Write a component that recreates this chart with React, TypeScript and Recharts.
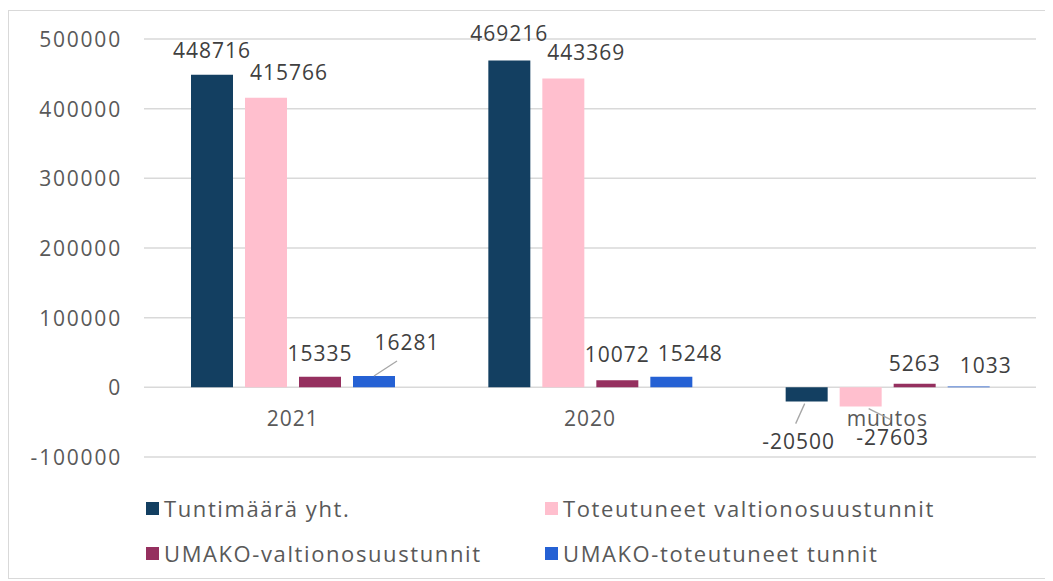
import { BarChart, Bar, XAxis, YAxis, CartesianGrid, LabelList } from 'recharts';

const categories = ['2021', '2020', 'muutos'];
const tuntimaara = [448716, 469216, -20500];
const toteutuneet = [415766, 443369, -27603];
const umakoValtio = [15335, 10072, 5263];
const umakoToteutuneet = [16281, 15248, 1033];
const yTicks = [-100000, 0, 100000, 200000, 300000, 400000, 500000];

const seriesNames = [
  'Tuntimäärä yht.',
  'Toteutuneet valtionosuustunnit',
  'UMAKO-valtionosuustunnit',
  'UMAKO-toteutuneet tunnit',
];
const colors = ['#133F61', '#FFBFCE', '#95305F', '#2561D4'];

const data = categories.map((c, i) => ({
  cat: c,
  s0: tuntimaara[i],
  s1: toteutuneet[i],
  s2: umakoValtio[i],
  s3: umakoToteutuneet[i],
}));

// layout
const W = 1041;
const H = 470;
const M = { top: 28, right: 14, bottom: 0, left: 0 };
const Y_W = 135;
const X_H = 24;
const plotH = H - M.top - M.bottom - X_H;
const zeroY = M.top + (plotH * 500000) / 600000;

const FONT = '"Open Sans", "DejaVu Sans", sans-serif';

// label placement like the excel original: [dx, dy from bar end, leader line]
const labelPos: [number, number, boolean][][] = [
  [[0, -25, false], [0, -27, false], [-8, 39, true]],
  [[23, -26, false], [23, -26, false], [32, 30, true]],
  [[0, -24, false], [0, -26, false], [0, -21, false]],
  [[33, -34, true], [19, -24, false], [17, -22, false]],
];

const makeLabel = (s: number) => (props: any) => {
  const { x, y, width, height, value, index } = props;
  const [dx, dy, leader] = labelPos[s][index];
  const cx = x + width / 2;
  const neg = value < 0;
  const endY = neg ? Math.max(y, y + height) : Math.min(y, y + height);
  const tx = cx + dx;
  const ty = endY + dy;
  return (
    <g>
      {leader && (
        <line
          x1={cx + (neg ? dx / 4 : 0)}
          y1={endY + (neg ? 2 : 0)}
          x2={neg ? tx + (dx > 0 ? -2 : -3) : tx - 10}
          y2={neg ? ty - 17 : ty + 19}
          stroke="#a6a6a6"
          strokeWidth={1.3}
        />
      )}
      <text
        x={tx}
        y={ty}
        textAnchor="middle"
        dominantBaseline="central"
        fill="#404040"
        fontSize={21}
        fontFamily={FONT}
        letterSpacing={1}
      >
        {value}
      </text>
    </g>
  );
};

const CatTick = (props: any) => {
  const { x, payload } = props;
  return (
    <text
      x={x}
      y={zeroY + 31}
      textAnchor="middle"
      dominantBaseline="central"
      fill="#595959"
      fontSize={21}
      fontFamily={FONT}
      letterSpacing={1}
    >
      {payload.value}
    </text>
  );
};

const ValueTick = (props: any) => {
  const { x, y, payload } = props;
  return (
    <text
      x={x}
      y={y}
      textAnchor="end"
      dominantBaseline="central"
      fill="#595959"
      fontSize={21}
      fontFamily={FONT}
      letterSpacing={1.8}
    >
      {payload.value}
    </text>
  );
};

export default function App() {
  return (
    <div
      style={{
        width: W,
        height: 567,
        marginTop: 2,
        border: '1px solid #d9d9d9',
        background: '#fff',
        position: 'relative',
      }}
    >
      <BarChart width={W} height={H} data={data} margin={M} barGap={12} barSize={42}>
        <CartesianGrid vertical={false} stroke="#d9d9d9" strokeWidth={1.5} />
        <XAxis
          dataKey="cat"
          height={X_H}
          axisLine={false}
          tickLine={false}
          tick={<CatTick />}
          interval={0}
        />
        <YAxis
          width={Y_W}
          domain={[-100000, 500000]}
          ticks={yTicks}
          axisLine={false}
          tickLine={false}
          tickSize={0}
          tickMargin={22}
          tick={<ValueTick />}
        />
        {[0, 1, 2, 3].map((s) => (
          <Bar key={s} dataKey={`s${s}`} fill={colors[s]} isAnimationActive={false}>
            <LabelList dataKey={`s${s}`} content={makeLabel(s)} />
          </Bar>
        ))}
      </BarChart>
      <div
        style={{
          position: 'absolute',
          left: 0,
          top: 468,
          width: W,
          fontFamily: FONT,
          fontSize: 22,
          letterSpacing: 1.6,
          color: '#595959',
        }}
      >
        {seriesNames.map((n, i) => (
          <div
            key={n}
            style={{
              position: 'absolute',
              left: i % 2 === 0 ? 137 : 536,
              top: 14 + (i < 2 ? 0 : 45),
              height: 30,
              display: 'flex',
              alignItems: 'center',
              whiteSpace: 'nowrap',
            }}
          >
            <span
              style={{
                width: 13,
                height: 13,
                background: colors[i],
                marginRight: 5,
                display: 'inline-block',
              }}
            />
            <span>{n}</span>
          </div>
        ))}
      </div>
    </div>
  );
}
